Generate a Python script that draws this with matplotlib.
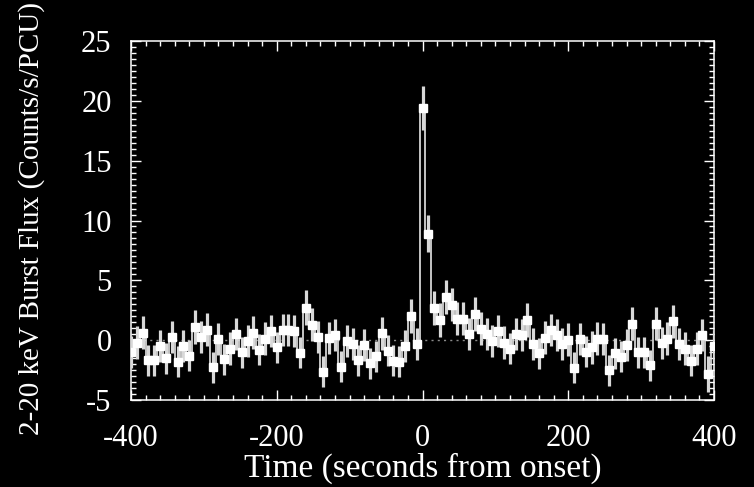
import numpy as np
import matplotlib
matplotlib.use("Agg")
import matplotlib.pyplot as plt
from matplotlib.ticker import MultipleLocator

# 8 s bins, centres from -400 to 400 s
time = np.arange(-400, 401, 8)

flux = [
    -1.0, -0.2, 0.64, -1.67, -1.67, -0.47, -1.53, 0.28, -1.8, -0.47,
    -1.3, 1.1, 0.28, 0.89, -2.28, 0.08, -1.6, -0.7, 0.5, -1.0,
    -0.08, 0.64, -0.78, 0.14, 0.75, -0.6,
    0.83, 0.83, 0.78, -1.05, 2.72, 1.3, 0.28, -2.64, 0.2, 0.42,
    -2.2, -0.05, -0.33, -1.67, -0.42, -1.94, -1.33, 0.56, -0.89, -1.72,
    -1.8, -0.5, 2.0, -0.33,
    19.4, 8.9, 2.7, 1.67, 3.6, 2.97, 1.8, 1.8, 0.5, 2.2,
    0.97, 0.5, -0.08, 0.78, -0.2, -0.7, 0.5, 0.42, 1.67, -0.3,
    -1.1, 0.22, 0.83, 0.42, -0.33, 0.05,
    -2.3, 0.08, -0.97, -0.6, 0.14, 0.08, -2.5, -1.1, -1.4, -0.42,
    1.39, -1.0, -1.0, -2.08, 1.39, -0.22, 0.14, 1.58, -0.33, -0.7,
    -1.72, -0.7, 0.42, -2.86, -0.5,
]

flux_err = [
    1.35, 1.35, 1.35, 1.3, 1.3, 1.35, 1.3, 1.35, 1.3, 1.35,
    1.3, 1.4, 1.35, 1.35, 1.3, 1.35, 1.3, 1.35, 1.35, 1.3,
    1.35, 1.35, 1.3, 1.35, 1.35, 1.3,
    1.35, 1.35, 1.35, 1.3, 1.45, 1.4, 1.35, 1.3, 1.35, 1.35,
    1.3, 1.35, 1.35, 1.3, 1.35, 1.3, 1.3, 1.35, 1.3, 1.3,
    1.3, 1.35, 1.4, 1.35,
    1.85, 1.55, 1.4, 1.4, 1.45, 1.4, 1.4, 1.4, 1.35, 1.4,
    1.35, 1.35, 1.35, 1.35, 1.35, 1.3, 1.35, 1.35, 1.4, 1.35,
    1.3, 1.35, 1.35, 1.35, 1.35, 1.35,
    1.3, 1.35, 1.3, 1.35, 1.35, 1.35, 1.3, 1.3, 1.3, 1.35,
    1.4, 1.3, 1.3, 1.3, 1.4, 1.35, 1.35, 1.4, 1.35, 1.35,
    1.3, 1.35, 1.35, 1.5, 1.35,
]

plt.rcParams['font.family'] = ['Liberation Serif', 'DejaVu Serif']
plt.rcParams['axes.unicode_minus'] = False

fig = plt.figure(figsize=(7.54, 4.87), dpi=100, facecolor='black')
ax = fig.add_axes([0.1737, 0.1786, 0.7733, 0.7372], facecolor='black')

# zero level
ax.axhline(0, color='#8a8a8a', lw=1.0, ls=(0, (1.5, 3)), zorder=1)

# light curve as histogram steps
ax.step(time, flux, where='mid', color='#e6e6e6', lw=1.2, zorder=2)
ax.errorbar(time, flux, yerr=flux_err, fmt='s', ms=5.5, mfc='white', mec='white',
            ecolor='#d8d8d8', elinewidth=2.3, capsize=0, zorder=3)

ax.set_xlim(-400, 400)
ax.set_ylim(-5, 25)
ax.xaxis.set_major_locator(MultipleLocator(200))
ax.xaxis.set_minor_locator(MultipleLocator(20))
ax.yaxis.set_major_locator(MultipleLocator(5))
ax.yaxis.set_minor_locator(MultipleLocator(0.5))

for s in ax.spines.values():
    s.set_color('white')
    s.set_linewidth(1.1)

ax.tick_params(which='both', direction='in', top=True, right=True,
               colors='white', width=1.0)
ax.tick_params(which='major', length=7, labelsize=22)
ax.tick_params(axis='x', which='major', pad=17)
ax.tick_params(axis='y', which='major', pad=14)
ax.tick_params(which='minor', length=3.5)

ax.set_xlabel('Time (seconds from onset)', color='white', fontsize=24)
ax.xaxis.set_label_coords(0.5, -0.19)
ax.xaxis.label.set_va('center')
ax.set_ylabel('2-20 keV Burst Flux (Counts/s/PCU)', color='white', fontsize=21)
ax.yaxis.set_label_coords(-0.17, 0.505)
ax.yaxis.label.set_va('center')

fig.savefig('out.png', dpi=100, facecolor='black')
